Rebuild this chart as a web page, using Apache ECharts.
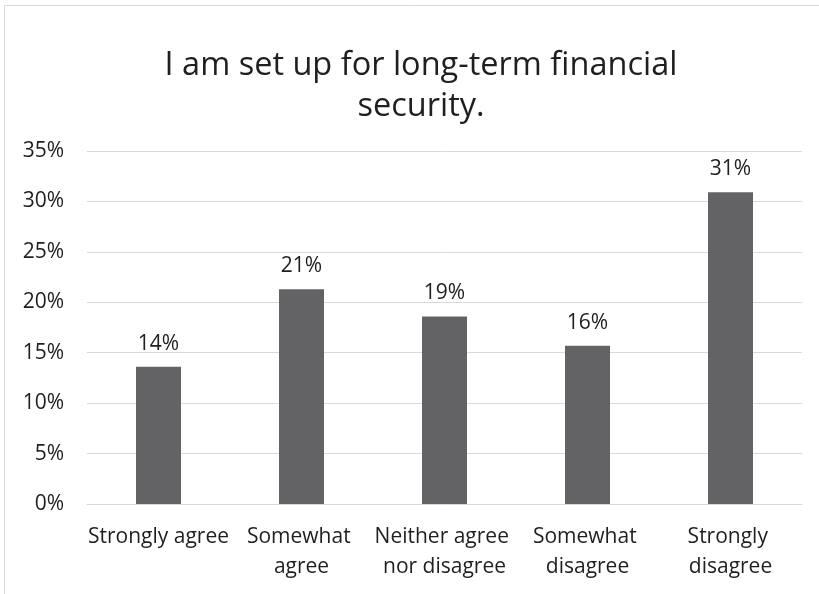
<!DOCTYPE html>
<html>
<head>
<meta charset="utf-8">
<script src="https://cdn.jsdelivr.net/npm/echarts@6/dist/echarts.min.js"></script>
<style>
  html, body { margin: 0; padding: 0; background: #ffffff; }
  #chart { width: 819px; height: 594px; }
</style>
</head>
<body>
<div id="chart"></div>
<script>
// Survey responses: "I am set up for long-term financial security."
const titleText = 'I am set up for long-term financial\nsecurity.';
const categories = ['Strongly agree', 'Somewhat agree', 'Neither agree nor disagree', 'Somewhat disagree', 'Strongly disagree'];
const shares = [13.6, 21.3, 18.6, 15.7, 30.9];   // percent of respondents
const yTicks = { min: 0, max: 35, step: 5 };

const FONT = "'Open Sans', 'Noto Sans', sans-serif";
const TEXT = '#1f1f1f';
const LINE = '#d9d9d9';

const chart = echarts.init(document.getElementById('chart'), null, { renderer: 'canvas' });

chart.setOption({
  backgroundColor: '#ffffff',
  animation: false,
  textStyle: { fontFamily: FONT },
  graphic: [{
    type: 'rect',
    shape: { x: 4.5, y: 5.5, width: 840, height: 620 },
    style: { fill: 'none', stroke: LINE, lineWidth: 1 },
    silent: true
  }],
  title: {
    text: titleText,
    left: 416,
    textAlign: 'center',
    top: 40,
    textStyle: {
      fontFamily: FONT,
      fontSize: 32.5,
      fontWeight: 'normal',
      color: TEXT,
      lineHeight: 41,
      align: 'center'
    }
  },
  grid: { left: 87, right: 17, top: 151, bottom: 90 },
  xAxis: {
    type: 'category',
    data: categories,
    axisLine: { show: true, lineStyle: { color: LINE, width: 1 } },
    axisTick: { show: false },
    axisLabel: {
      interval: 0,
      margin: 18,
      color: TEXT,
      fontFamily: FONT,
      fontSize: 21,
      lineHeight: 30,
      width: 150,
      overflow: 'break',
      align: 'center'
    }
  },
  yAxis: {
    type: 'value',
    min: yTicks.min,
    max: yTicks.max,
    interval: yTicks.step,
    axisLine: { show: false },
    axisTick: { show: false },
    splitLine: { show: true, lineStyle: { color: LINE, width: 1 } },
    axisLabel: {
      margin: 23,
      color: TEXT,
      fontFamily: FONT,
      fontSize: 21,
      formatter: '{value}%'
    }
  },
  series: [{
    type: 'bar',
    data: shares,
    barWidth: 45,
    itemStyle: { color: '#636365' },
    label: {
      show: true,
      position: 'top',
      distance: 11,
      color: TEXT,
      fontFamily: FONT,
      fontSize: 21,
      lineHeight: 24,
      formatter: p => Math.round(p.value) + '%'
    }
  }]
});
</script>
</body>
</html>
